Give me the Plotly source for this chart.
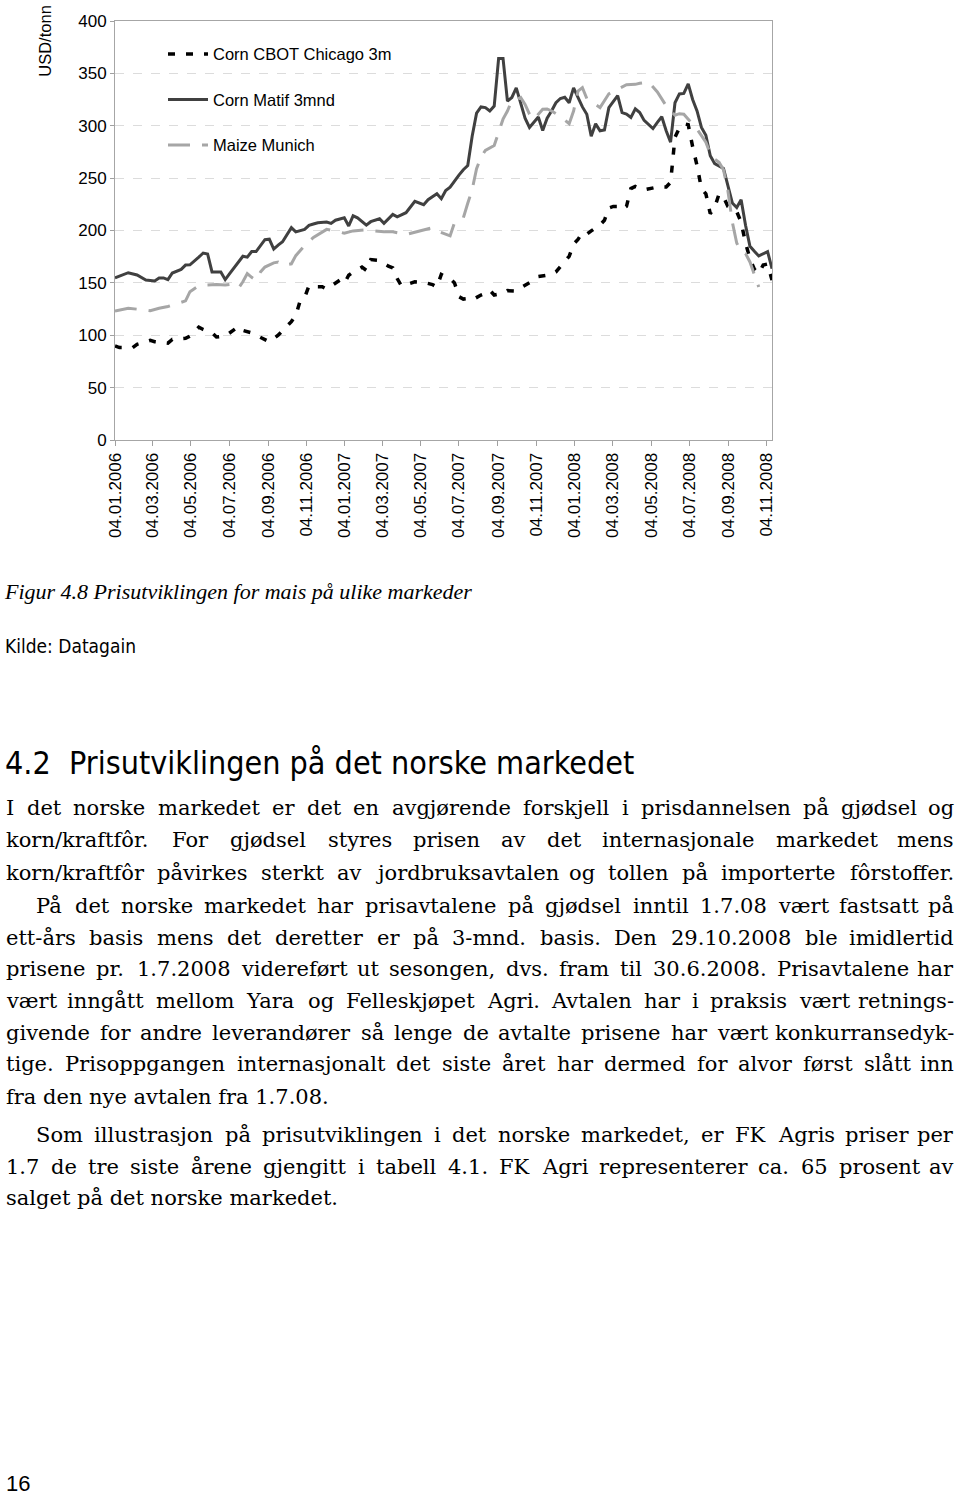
import plotly.graph_objects as go
import pandas as pd

# ---------------- data (weekly observations, week index from 04.01.2006) ----------------
START = pd.Timestamp("2006-01-04")

matif_weeks = [0, 3, 5, 7, 9, 10, 11, 12, 13, 15, 16, 17, 19, 20, 21, 22, 24, 25, 26, 28, 29, 30, 31, 32,
               34, 35, 36, 37, 38, 40, 41, 43, 44, 45, 46, 48, 49, 50, 52, 53, 54, 55, 57, 58, 60, 61, 63,
               64, 66, 68, 69, 70, 71, 73, 74, 75, 76, 77, 78, 79, 80, 81, 82, 83, 84, 85, 86, 87, 88, 89,
               90, 91, 92, 93, 94, 95, 96, 97, 98, 99, 100, 101, 102, 103, 104, 105, 106, 107, 108, 109,
               110, 111, 112, 114, 115, 116, 117, 118, 119, 120, 122, 123, 124, 125, 126, 127, 128, 129,
               130, 131, 132, 133, 134, 135, 136, 138, 139, 140, 141, 142, 143, 144, 145, 146, 148, 149]
matif_values = [154.7, 159.7, 157.5, 152.8, 151.9, 154.7, 154.7, 153.1, 159.4, 162.9, 167.0, 167.2, 174.5,
                178.5, 177.6, 160.4, 160.4, 153.1, 158.8, 169.8, 175.4, 174.5, 179.9, 179.9, 191.2, 191.7,
                182.3, 186.1, 189.3, 202.7, 198.7, 201.1, 204.9, 206.2, 207.4, 208.1, 206.8, 209.8, 212.1,
                204.3, 214.0, 212.1, 205.1, 208.4, 211.2, 206.8, 215.4, 213.1, 217.0, 227.9, 226.3, 224.7,
                229.4, 235.0, 230.3, 238.2, 241.3, 247.4, 252.9, 258.0, 262.0, 290.0, 312.0, 318.0, 317.3,
                314.1, 318.8, 364.3, 364.3, 323.5, 327.0, 336.1, 322.3, 307.2, 298.4, 303.0, 308.4, 295.4,
                307.2, 314.1, 322.0, 326.0, 327.2, 322.0, 336.1, 327.0, 318.0, 311.0, 290.0, 301.8, 295.2,
                296.0, 317.3, 328.7, 312.6, 311.2, 307.9, 316.1, 312.6, 305.1, 297.3, 303.2, 308.6, 295.2,
                284.3, 322.0, 330.4, 330.9, 339.9, 325.1, 314.1, 298.4, 291.0, 271.4, 263.9, 259.2, 242.3,
                226.3, 222.0, 229.4, 205.0, 185.0, 180.1, 175.7, 179.9, 163.5]

munich_weeks = [0, 3, 5, 8, 10, 12, 16, 17, 19, 20, 23, 25, 26, 28, 29, 30, 31, 32, 33, 34, 36, 37, 38, 40,
                41, 43, 45, 47, 48, 50, 52, 54, 57, 61, 63, 66, 69, 72, 73, 76, 77, 79, 80, 81, 82, 83, 84,
                86, 87, 88, 89, 90, 91, 92, 93, 94, 95, 97, 98, 99, 101, 103, 104, 105, 106, 107, 110, 111,
                112, 116, 118, 119, 121, 123, 124, 125, 127, 128, 129, 130, 132, 133, 134, 135, 136, 137,
                138, 139, 140, 141, 142, 143, 144, 145, 146]
munich_values = [123.0, 125.8, 124.9, 123.4, 125.8, 127.4, 132.8, 141.6, 147.2, 147.9, 148.4, 147.9, 148.5,
                 145.0, 151.0, 158.8, 155.3, 152.6, 160.4, 165.1, 169.1, 169.8, 166.7, 168.2, 176.0, 185.5,
                 193.3, 198.7, 201.1, 199.6, 197.4, 199.6, 200.6, 198.7, 198.7, 196.1, 199.6, 202.7, 199.6,
                 194.9, 207.4, 212.1, 226.0, 239.0, 259.0, 270.0, 276.5, 281.1, 293.7, 306.3, 314.1, 324.0,
                 325.0, 327.0, 320.4, 311.0, 306.3, 315.7, 316.0, 314.1, 309.0, 302.0, 314.1, 333.0, 336.4,
                 326.0, 317.3, 323.5, 330.5, 339.2, 339.5, 340.5, 341.7, 332.3, 325.1, 319.0, 310.0, 311.5,
                 311.0, 306.3, 296.8, 290.6, 284.3, 273.3, 268.0, 265.0, 258.0, 238.0, 208.0, 188.0, 180.0,
                 178.0, 170.0, 158.0, 146.0]

chicago_weeks = [0, 1, 4, 5, 8, 9, 12, 13, 16, 17, 19, 20, 22, 23, 25, 26, 28, 29, 31, 32, 34, 35, 37, 38,
                 40, 41, 42, 43, 44, 45, 47, 48, 51, 52, 53, 54, 56, 57, 58, 60, 62, 63, 64, 65, 68, 70, 72,
                 73, 74, 76, 77, 78, 79, 80, 81, 83, 84, 85, 86, 88, 89, 91, 92, 95, 96, 99, 100, 102, 103,
                 104, 105, 106, 107, 108, 110, 111, 112, 113, 114, 115, 116, 117, 118, 120, 123, 125, 126,
                 127, 128, 129, 130, 131, 132, 133, 134, 135, 136, 137, 138, 139, 140, 141, 142, 143, 144,
                 145, 146, 147, 148, 149]
chicago_values = [89.8, 88.2, 88.2, 91.4, 95.1, 93.8, 92.5, 96.1, 97.0, 99.2, 107.7, 105.5, 102.3, 98.3,
                  99.2, 102.3, 108.3, 104.6, 102.3, 100.1, 96.1, 93.8, 100.1, 104.6, 113.0, 119.0, 133.0,
                  136.0, 147.2, 146.3, 146.3, 144.1, 152.6, 149.4, 157.3, 160.4, 165.0, 162.0, 172.2, 171.4,
                  166.0, 164.3, 154.1, 147.0, 151.0, 150.5, 148.4, 146.0, 158.0, 154.1, 150.0, 136.8, 134.5,
                  135.0, 133.7, 138.4, 140.0, 143.0, 138.4, 140.0, 142.6, 142.2, 145.3, 152.6, 156.0, 158.0,
                  160.4, 170.6, 175.3, 187.0, 191.5, 198.0, 196.4, 199.6, 205.3, 209.8, 221.5, 223.0, 223.0,
                  219.9, 223.1, 240.0, 242.0, 238.8, 241.5, 241.5, 246.0, 289.0, 298.0, 302.0, 301.0, 280.0,
                  262.0, 240.0, 235.0, 216.0, 222.0, 235.0, 232.0, 223.0, 220.0, 218.0, 208.0, 188.0, 173.0,
                  163.0, 159.0, 167.0, 168.0, 152.6]

series_names = ["Corn CBOT Chicago 3m", "Corn Matif 3mnd", "Maize Munich"]

tick_labels = ["04.01.2006", "04.03.2006", "04.05.2006", "04.07.2006", "04.09.2006", "04.11.2006",
               "04.01.2007", "04.03.2007", "04.05.2007", "04.07.2007", "04.09.2007", "04.11.2007",
               "04.01.2008", "04.03.2008", "04.05.2008", "04.07.2008", "04.09.2008", "04.11.2008"]
y_ticks = [0, 50, 100, 150, 200, 250, 300, 350, 400]
LAST_WEEK = 149


def to_dates(weeks):
    return [START + pd.Timedelta(days=7 * w) for w in weeks]


tick_dates = [pd.to_datetime(t, format="%d.%m.%Y") for t in tick_labels]

# ---------------- page geometry ----------------
W, H = 960, 1509
ML, MR, MT, MB = 115, 188, 15, 1069
PW, PH = W - ML - MR, H - MT - MB


def xp(px):
    return (px - ML) / PW


def yp(py):
    return (H - MB - py) / PH


SANS = "Liberation Sans, Arial, sans-serif"

fig = go.Figure()
fig.add_trace(go.Scatter(x=to_dates(chicago_weeks), y=chicago_values, mode="lines", name=series_names[0],
                         legendgroup="a",
                         line=dict(color="#000000", width=3.5, dash="7px,11px")))
fig.add_trace(go.Scatter(x=to_dates(matif_weeks), y=matif_values, mode="lines", name=series_names[1],
                         legendgroup="b",
                         line=dict(color="#404040", width=3)))
fig.add_trace(go.Scatter(x=to_dates(munich_weeks), y=munich_values, mode="lines", name=series_names[2],
                         legendgroup="c",
                         line=dict(color="#a6a6a6", width=3, dash="22px,12px")))

fig.update_layout(
    width=W, height=H,
    margin=dict(l=ML, r=MR, t=MT, b=MB, pad=0),
    paper_bgcolor="white", plot_bgcolor="white",
    font=dict(family=SANS, size=16, color="#000000"),
    showlegend=True,
    legend=dict(x=xp(163), y=yp(31), xanchor="left", yanchor="top",
                bgcolor="rgba(0,0,0,0)", font=dict(family=SANS, size=16.5, color="#000"),
                traceorder="grouped", tracegroupgap=21, itemwidth=40),
    xaxis=dict(type="date", range=[START, START + pd.Timedelta(days=7 * LAST_WEEK)],
               tickvals=tick_dates, ticktext=tick_labels, tickangle=-90,
               tickfont=dict(family=SANS, size=17, color="#000"),
               ticks="outside", ticklen=5, tickcolor="#a0a0a0",
               showgrid=False, showline=True, linecolor="#a6a6a6", linewidth=1, mirror=True,
               zeroline=False),
    yaxis=dict(range=[0, 400], tickvals=y_ticks,
               tickfont=dict(family=SANS, size=17, color="#000"),
               ticks="outside", ticklen=4, tickcolor="#a0a0a0",
               showgrid=True, gridcolor="#dcdcdc", griddash="dash", gridwidth=1,
               showline=True, linecolor="#a6a6a6", linewidth=1, mirror=True, zeroline=False),
)

ann = []
ann.append(dict(x=xp(45), y=yp(35), xref="paper", yref="paper", text="USD/tonn", textangle=-90,
                showarrow=False, xanchor="center", yanchor="middle",
                font=dict(family=SANS, size=16.5, color="#000")))

# caption / source / heading
ann.append(dict(x=xp(2), y=yp(594), xref="paper", yref="paper",
                text="<i>Figur 4.8 Prisutviklingen for mais på ulike markeder</i>",
                showarrow=False, xanchor="left", yanchor="middle",
                font=dict(family="Liberation Serif, Times New Roman, serif", size=22, color="#000")))
NARROW = "DejaVu Sans Condensed, Liberation Sans Narrow, Arial Narrow, sans-serif"
ann.append(dict(x=xp(3), y=yp(649), xref="paper", yref="paper", text="Kilde: Datagain",
                showarrow=False, xanchor="left", yanchor="middle",
                font=dict(family=NARROW, size=19, color="#000")))
ann.append(dict(x=xp(3), y=yp(768), xref="paper", yref="paper",
                text="4.2  Prisutviklingen på det norske markedet",
                showarrow=False, xanchor="left", yanchor="middle",
                font=dict(family=NARROW, size=32, color="#000")))
ann.append(dict(x=xp(4), y=yp(1498), xref="paper", yref="paper", text="16",
                showarrow=False, xanchor="left", yanchor="middle",
                font=dict(family=SANS, size=22, color="#000")))

# body text (justified)
body = [
    ("I det norske markedet er det en avgjørende forskjell i prisdannelsen på gjødsel og", 5, True, 813),
    ("korn/kraftfôr. For gjødsel styres prisen av det internasjonale markedet mens", 5, True, 846),
    ("korn/kraftfôr påvirkes sterkt av jordbruksavtalen og tollen på importerte fôrstoffer.", 5, True, 879),
    ("På det norske markedet har prisavtalene på gjødsel inntil 1.7.08 vært fastsatt på", 35, True, 913),
    ("ett-års basis mens det deretter er på 3-mnd. basis. Den 29.10.2008 ble imidlertid", 5, True, 945),
    ("prisene pr. 1.7.2008 videreført ut sesongen, dvs. fram til 30.6.2008. Prisavtalene har", 5, True, 977),
    ("vært inngått mellom Yara og Felleskjøpet Agri. Avtalen har i praksis vært retnings-", 5, True, 1009),
    ("givende for andre leverandører så lenge de avtalte prisene har vært konkurransedyk-", 5, True, 1041),
    ("tige. Prisoppgangen internasjonalt det siste året har dermed for alvor først slått inn", 5, True, 1073),
    ("fra den nye avtalen fra 1.7.08.", 5, False, 1106),
    ("Som illustrasjon på prisutviklingen i det norske markedet, er FK Agris priser per", 35, True, 1145),
    ("1.7 de tre siste årene gjengitt i tabell 4.1. FK Agri representerer ca. 65 prosent av", 5, True, 1177),
    ("salget på det norske markedet.", 5, False, 1209),
]
RIGHT = 955
EM = {'a': .596, 'b': .640, 'c': .560, 'd': .640, 'e': .592, 'f': .370, 'g': .640, 'h': .644, 'i': .320,
      'j': .320, 'k': .606, 'l': .320, 'm': .948, 'n': .644, 'o': .602, 'p': .640, 'q': .640, 'r': .478,
      's': .513, 't': .402, 'u': .644, 'v': .565, 'w': .856, 'x': .564, 'y': .565, 'z': .527,
      'å': .596, 'ø': .602, 'ô': .602, 'ê': .592, 'æ': .905,
      ' ': .318, '.': .318, ',': .318, '-': .338, '/': .337, ':': .337,
      'A': .722, 'D': .830, 'F': .693, 'G': .838, 'I': .400, 'K': .793, 'P': .707, 'S': .685, 'Y': .724}
for d in "0123456789":
    EM[d] = .636


def em(s):
    return sum(EM.get(c, .62) for c in s)


cands = []
for text, x0, just, _ in body:
    if just:
        cands.append((RIGHT - x0) / (em(text)))
fs = min(21.0, min(cands) * 0.985)
SERIF = "DejaVu Serif, serif"
for text, x0, just, py in body:
    if not just:
        ann.append(dict(x=xp(x0), y=yp(py), xref="paper", yref="paper", text=text, showarrow=False,
                        xanchor="left", yanchor="middle", borderpad=0,
                        font=dict(family=SERIF, size=fs, color="#000")))
        continue
    words = text.split(" ")
    widths = [em(w) * fs for w in words]
    gap = (RIGHT - x0 - sum(widths)) / (len(words) - 1)
    cur = x0
    for i, (wd, wdw) in enumerate(zip(words, widths)):
        if i == len(words) - 1:
            ann.append(dict(x=xp(RIGHT), y=yp(py), xref="paper", yref="paper", text=wd, showarrow=False,
                            xanchor="right", yanchor="middle", borderpad=0,
                            font=dict(family=SERIF, size=fs, color="#000")))
        else:
            ann.append(dict(x=xp(cur), y=yp(py), xref="paper", yref="paper", text=wd, showarrow=False,
                            xanchor="left", yanchor="middle", borderpad=0,
                            font=dict(family=SERIF, size=fs, color="#000")))
        cur += wdw + gap

fig.update_layout(annotations=ann)
fig.write_html("out.html")
